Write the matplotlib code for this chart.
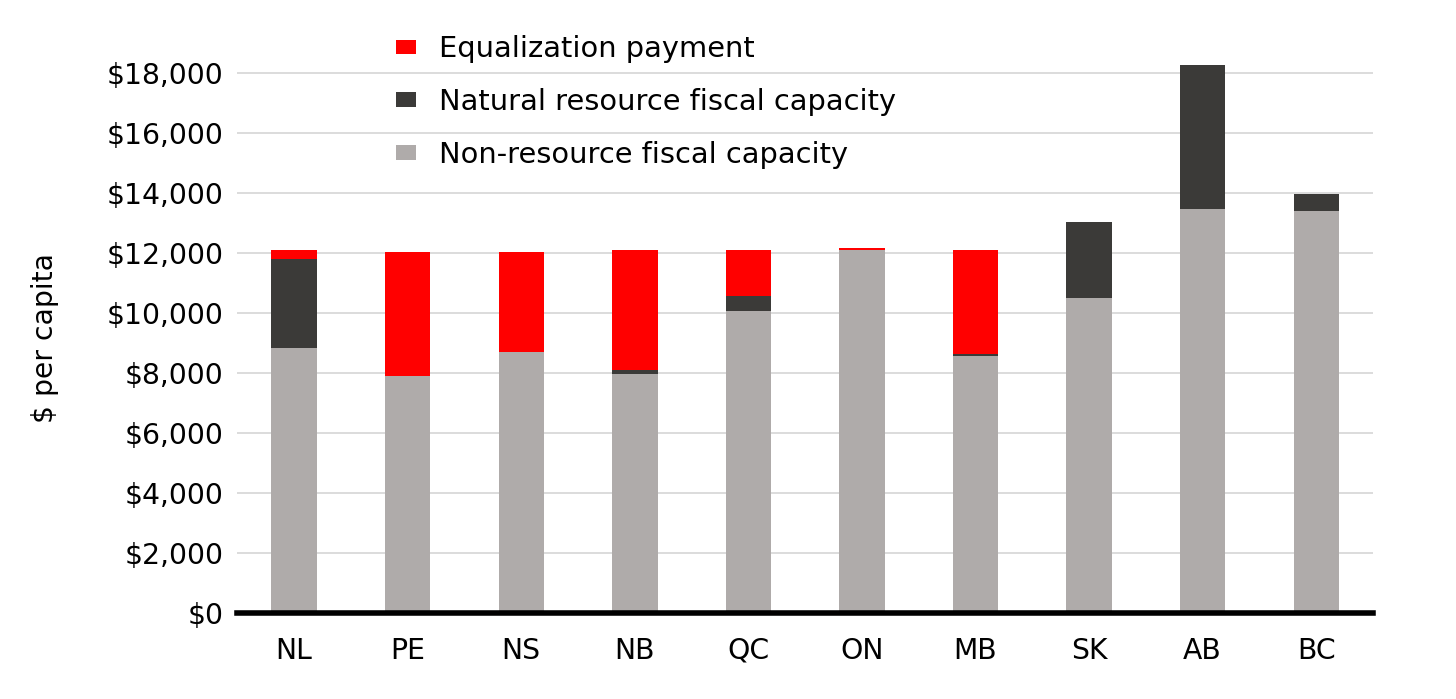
import matplotlib
matplotlib.use("Agg")
from matplotlib import pyplot as plt
from matplotlib.ticker import FuncFormatter
import numpy as np

# provinces
provinces = ["NL", "PE", "NS", "NB", "QC", "ON", "MB", "SK", "AB", "BC"]

# $ per capita
non_resource = [8830, 7900, 8700, 7970, 10080, 12100, 8560, 10510, 13490, 13410]
natural_resource = [2970, 0, 0, 150, 500, 0, 70, 2530, 4780, 580]
equalization = [300, 4130, 3330, 3980, 1520, 80, 3470, 0, 0, 0]

c_non = "#afabaa"
c_nat = "#3b3a38"
c_eq = "#ff0000"

plt.rcParams['font.family'] = ['DejaVu Sans']

fig = plt.figure(figsize=(14.56, 6.99), dpi=100)
ax = fig.add_axes([0.163, 0.123, 0.78, 0.815])

x = np.arange(len(provinces))
bar_width = 0.4
base2 = np.array(non_resource)
base3 = base2 + np.array(natural_resource)

ax.bar(x, non_resource, width=bar_width, color=c_non, label="Non-resource fiscal capacity", zorder=2)
ax.bar(x, natural_resource, width=bar_width, bottom=base2, color=c_nat, label="Natural resource fiscal capacity", zorder=2)
ax.bar(x, equalization, width=bar_width, bottom=base3, color=c_eq, label="Equalization payment", zorder=2)

ax.set_xlim(-0.5, len(provinces) - 0.5)
ax.set_ylim(0, 19000)
ax.set_yticks(range(0, 18001, 2000))
ax.yaxis.set_major_formatter(FuncFormatter(lambda v, p: "${:,.0f}".format(v)))
ax.set_xticks(x)
ax.set_xticklabels(provinces)

ax.tick_params(axis='both', length=0, labelsize=20.3)
ax.tick_params(axis='y', pad=10)
ax.tick_params(axis='x', pad=17)

# grid
ax.grid(axis='y', color="#d9d9d9", linewidth=1.3, zorder=0)
ax.set_axisbelow(True)

for s in ["top", "right", "left"]:
    ax.spines[s].set_visible(False)
ax.spines["bottom"].set_linewidth(4)
ax.spines["bottom"].set_color("black")
ax.spines["bottom"].set_zorder(3)

ax.set_ylabel("$ per capita", fontsize=20.3)
ax.yaxis.set_label_coords(-0.157, 0.482)

# legend, reverse order
h, l = ax.get_legend_handles_labels()
ax.legend(h[::-1], l[::-1], loc="upper left", bbox_to_anchor=(0.264, 0.966),
          bbox_transform=fig.transFigure, frameon=False, fontsize=20.8,
          handlelength=0.7, handleheight=0.42, handletextpad=0.8,
          labelspacing=0.86, borderaxespad=0)

plt.savefig("out.png", dpi=100)
